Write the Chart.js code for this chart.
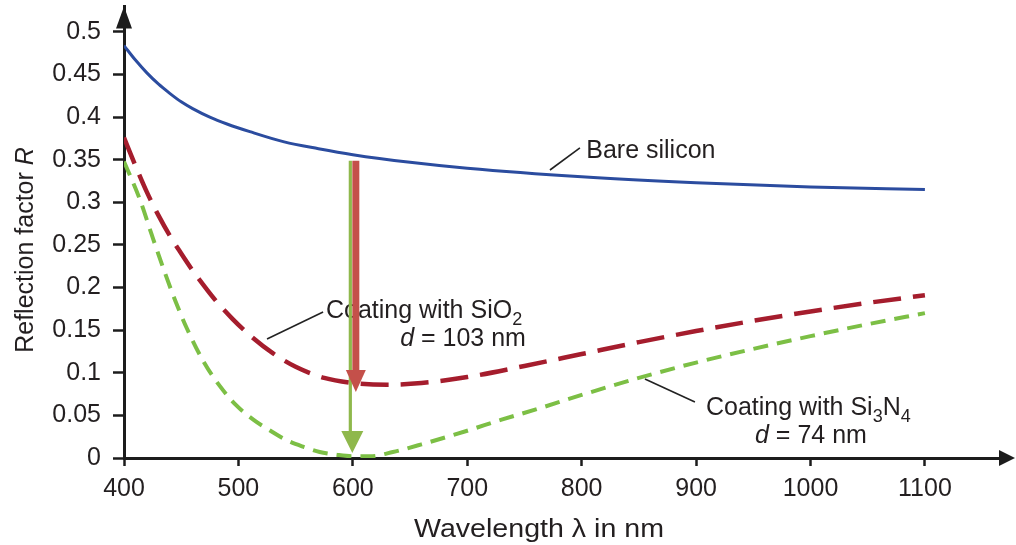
<!DOCTYPE html>
<html><head><meta charset="utf-8">
<script src="https://cdn.jsdelivr.net/npm/chart.js@4.4.1/dist/chart.umd.min.js"></script>
<style>html,body{margin:0;padding:0;background:#fff}#wrap{width:1016px;height:545px;position:relative}</style>
</head><body><div id="wrap"><canvas id="c"></canvas></div>
<script>
// ---- data ----
const wavelengthsBare = [400,410,420,430,440,450,460,475,490,510,540,570,600,650,700,800,900,1000,1100];
const reflBare        = [0.484,0.467,0.452,0.439,0.428,0.418,0.410,0.400,0.392,0.383,0.371,0.363,0.356,0.347,0.340,0.330,0.323,0.318,0.315];

const wavelengthsSiO2 = [400,410,420,430,440,450,460,470,480,495,510,530,550,575,600,630,660,700,750,800,850,900,950,1000,1050,1100];
const reflSiO2        = [0.376,0.343,0.312,0.285,0.261,0.240,0.220,0.202,0.185,0.163,0.144,0.123,0.107,0.094,0.088,0.086,0.088,0.095,0.108,0.122,0.136,0.149,0.161,0.172,0.182,0.191];

const wavelengthsSi3N4 = [400,414,424,434,445,455,470,484,498,513,528,542,557,571,585,600,615,635,660,700,730,760,800,850,900,950,1000,1050,1100];
const reflSi3N4        = [0.348,0.303,0.263,0.224,0.184,0.152,0.112,0.084,0.062,0.045,0.032,0.021,0.013,0.007,0.004,0.002,0.002,0.007,0.016,0.032,0.045,0.057,0.074,0.094,0.112,0.128,0.143,0.157,0.170];

const xTickValues = [400,500,600,700,800,900,1000,1100];
const xTickLabels = ['400','500','600','700','800','900','1000','1100'];
const yTickValues = [0,0.05,0.1,0.15,0.2,0.25,0.3,0.35,0.4,0.45,0.5];
const yTickLabels = ['0','0.05','0.1','0.15','0.2','0.25','0.3','0.35','0.4','0.45','0.5'];

// arrows at lambda = 600 nm (from bare silicon down to coated minimum)
const arrowWavelength = 600;
const arrowStart = 0.349;
const arrowEndSiO2 = 0.0775;
const arrowEndSi3N4 = 0.006;

// ---- styles ----
const FAMILY = '"Liberation Sans", Arial, Helvetica, sans-serif';
const TEXT = '#231f20';
const AX = '#1c1c1c';

function drawRich(ctx, parts, x, y, align, size) {
  const sub = Math.round(size * 0.7);
  const fontOf = p => (p.italic ? 'italic ' : '') + (p.sub ? sub : size) + 'px ' + FAMILY;
  let total = 0;
  parts.forEach(p => { ctx.font = fontOf(p); p.w = ctx.measureText(p.t).width; total += p.w; });
  let cx = align === 'center' ? x - total / 2 : align === 'right' ? x - total : x;
  ctx.textAlign = 'left'; ctx.textBaseline = 'alphabetic';
  parts.forEach(p => {
    ctx.font = fontOf(p);
    ctx.fillText(p.t, cx, y + (p.sub ? size * 0.28 : 0));
    cx += p.w;
  });
}

const decorPlugin = {
  id: 'decor',
  afterDatasetsDraw(chart) {
    const ctx = chart.ctx, xs = chart.scales.x, ys = chart.scales.y;
    const px = v => xs.getPixelForValue(v), py = v => ys.getPixelForValue(v);
    ctx.save();
    // leader lines
    ctx.strokeStyle = '#222'; ctx.lineWidth = 1.6;
    const leaders = [[772.3,0.338,798.5,0.364],[525,0.1397,574,0.1714],[855.3,0.0927,899,0.0657]];
    leaders.forEach(l => { ctx.beginPath(); ctx.moveTo(px(l[0]), py(l[1])); ctx.lineTo(px(l[2]), py(l[3])); ctx.stroke(); });
    // labels
    ctx.fillStyle = TEXT;
    drawRich(ctx, [{t:'Bare silicon'}], px(804), py(0.352), 'left', 25);
    drawRich(ctx, [{t:'Coating with SiO'},{t:'2',sub:true}], px(576.5), py(0.164), 'left', 25);
    drawRich(ctx, [{t:'d',italic:true},{t:' = 103 nm'}], px(751.3), py(0.1315), 'right', 25);
    drawRich(ctx, [{t:'Coating with Si'},{t:'3',sub:true},{t:'N'},{t:'4',sub:true}], px(908.6), py(0.0505), 'left', 25);
    drawRich(ctx, [{t:'d',italic:true},{t:' = 74 nm'}], px(1000.4), py(0.0176), 'center', 25);

    // green arrow (behind)
    const gx = px(arrowWavelength) - 2.5;
    ctx.strokeStyle = '#8fb84c'; ctx.lineWidth = 3.2;
    ctx.beginPath(); ctx.moveTo(gx, py(arrowStart)); ctx.lineTo(gx, py(arrowEndSi3N4) - 20); ctx.stroke();
    ctx.fillStyle = '#8fb84c';
    const gh = px(arrowWavelength) - 0.5, gy = py(arrowEndSi3N4);
    ctx.beginPath(); ctx.moveTo(gh - 11, gy - 22); ctx.lineTo(gh + 11, gy - 22); ctx.lineTo(gh, gy); ctx.closePath(); ctx.fill();
    // red arrow (front)
    const rx = px(arrowWavelength) + 3, ry0 = py(arrowStart), ry1 = py(arrowEndSiO2);
    ctx.strokeStyle = '#c4504a'; ctx.fillStyle = '#c4504a'; ctx.lineWidth = 7;
    ctx.beginPath(); ctx.moveTo(rx, ry0); ctx.lineTo(rx, ry1 - 21); ctx.stroke();
    ctx.beginPath(); ctx.moveTo(rx - 10, ry1 - 22); ctx.lineTo(rx + 10, ry1 - 22); ctx.lineTo(rx, ry1); ctx.closePath(); ctx.fill();
    ctx.restore();
  },
  afterDraw(chart) {
    const ctx = chart.ctx, a = chart.chartArea;
    ctx.save();
    ctx.fillStyle = AX;
    // y axis arrow
    ctx.beginPath(); ctx.moveTo(a.left - 8, a.top + 22); ctx.lineTo(a.left + 8, a.top + 22); ctx.lineTo(a.left, a.top); ctx.closePath(); ctx.fill();
    // x axis arrow
    ctx.beginPath(); ctx.moveTo(a.right - 6, a.bottom - 8); ctx.lineTo(a.right - 6, a.bottom + 8); ctx.lineTo(1015, a.bottom); ctx.closePath(); ctx.fill();
    // axis titles
    ctx.fillStyle = TEXT;
    ctx.save();
    ctx.translate(539, 537);
    ctx.scale(1.1, 1);
    drawRich(ctx, [{t:'Wavelength λ in nm'}], 0, 0, 'center', 26);
    ctx.restore();
    ctx.save();
    ctx.translate(33, 250); ctx.rotate(-Math.PI / 2);
    drawRich(ctx, [{t:'Reflection factor '},{t:'R',italic:true}], 0, 0, 'center', 25);
    ctx.restore();
    ctx.restore();
  }
};

const pts = (xs, ys) => xs.map((x, i) => ({x, y: ys[i]}));

new Chart(document.getElementById('c'), {
  type: 'line',
  data: {
    datasets: [
      {label:'Bare silicon', data: pts(wavelengthsBare, reflBare), borderColor:'#2b4c9f', borderWidth:3, pointRadius:0, cubicInterpolationMode:'monotone', fill:false},
      {label:'Coating with SiO2', data: pts(wavelengthsSiO2, reflSiO2), borderColor:'#a51d2d', borderWidth:4.5, borderDash:[28,12], pointRadius:0, cubicInterpolationMode:'monotone', fill:false},
      {label:'Coating with Si3N4', data: pts(wavelengthsSi3N4, reflSi3N4), borderColor:'#7cbf45', borderWidth:4, borderDash:[15,9], pointRadius:0, cubicInterpolationMode:'monotone', fill:false}
    ]
  },
  options: {
    responsive: true, maintainAspectRatio: false, animation: false,
    layout: {padding: {top: 6.4, right: 11, left: 0, bottom: 0}},
    plugins: {legend: {display: false}, tooltip: {enabled: false}},
    scales: {
      x: {
        type: 'linear', min: 400, max: 1170,
        afterBuildTicks: s => { s.ticks = xTickValues.map(v => ({value: v})); },
        afterFit: s => { s.height = 87; s.paddingLeft = 0; s.paddingRight = 0; },
        grid: {drawOnChartArea: false, drawTicks: true, tickLength: 8, tickWidth: 2.5, tickColor: AX},
        border: {display: true, color: AX, width: 3},
        ticks: {font: {family: FAMILY, size: 25}, color: TEXT, padding: 8, maxRotation: 0, autoSkip: false,
                callback: (v, i) => xTickLabels[i]}
      },
      y: {
        type: 'linear', min: 0, max: 0.53,
        afterBuildTicks: s => { s.ticks = yTickValues.map(v => ({value: v})); },
        afterFit: s => { s.width = 124; s.paddingTop = 0; s.paddingBottom = 0; },
        grid: {drawOnChartArea: false, drawTicks: true, tickLength: 11, tickWidth: 2.5, tickColor: AX},
        border: {display: true, color: AX, width: 3},
        ticks: {font: {family: FAMILY, size: 25}, color: TEXT, padding: 12, autoSkip: false,
                callback: (v, i) => yTickLabels[i]}
      }
    }
  },
  plugins: [decorPlugin]
});
</script>
</body></html>
